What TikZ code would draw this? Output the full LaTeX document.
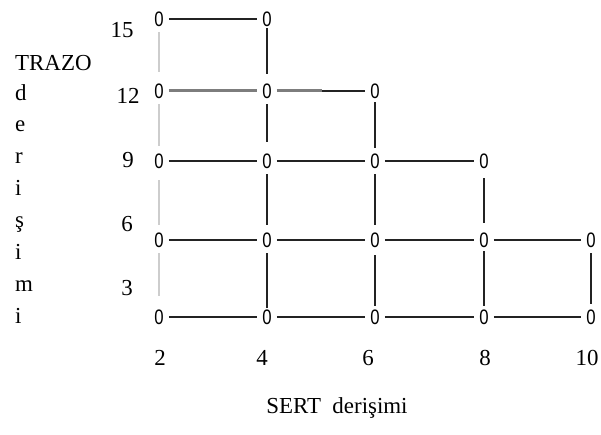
\documentclass[tikz,border=0pt]{standalone}
\usepackage{fontspec}
\setmainfont{Liberation Serif}
\newfontfamily\zerofont{Liberation Sans}[FakeStretch=0.8]
\usetikzlibrary{positioning}
\definecolor{gridgray}{RGB}{125,125,125}
\definecolor{paleline}{RGB}{205,205,205}
\definecolor{darkline}{RGB}{35,35,35}

\tikzset{
  pt/.style={inner xsep=5bp, inner ysep=1.5bp, font=\zerofont\fontsize{21}{21}\selectfont},
  lbl/.style={inner sep=0pt, font=\fontsize{23}{23}\selectfont},
  link/.style={line width=1.3bp, darkline},
  palelink/.style={line width=1.3bp, paleline},
  heavylink/.style={line width=3bp, gridgray},
}

\begin{document}
\begin{tikzpicture}[x=1bp, y=-1bp]
  \useasboundingbox[fill=white] (0,0) rectangle (601,435);

  % points of the grid
  \node[pt] (a15) at (159,19) {0};
  \node[pt] (b15) at (267,19) {0};
  \node[pt] (a12) at (159,91) {0};
  \node[pt] (b12) at (267,91) {0};
  \node[pt] (c12) at (375,91) {0};
  \node[pt] (a9) at (159,161) {0};
  \node[pt] (b9) at (267,161) {0};
  \node[pt] (c9) at (375,161) {0};
  \node[pt] (d9) at (484,161) {0};
  \node[pt] (a6) at (159,240) {0};
  \node[pt] (b6) at (267,240) {0};
  \node[pt] (c6) at (375,240) {0};
  \node[pt] (d6) at (484,240) {0};
  \node[pt] (e6) at (591,240) {0};
  \node[pt] (a3) at (159,317) {0};
  \node[pt] (b3) at (267,317) {0};
  \node[pt] (c3) at (375,317) {0};
  \node[pt] (d3) at (484,317) {0};
  \node[pt] (e3) at (591,317) {0};
  \coordinate (m12) at (322,91);

  % horizontal links
  \draw[link] (a15) -- (b15);
  \draw[heavylink] (a12) -- (b12);
  \draw[heavylink] (b12) -- (m12);
  \draw[link, line width=2.6bp] (m12) -- (c12);
  \draw[link] (a9) -- (b9);
  \draw[link] (b9) -- (c9);
  \draw[link] (c9) -- (d9);
  \draw[link] (a6) -- (b6);
  \draw[link] (b6) -- (c6);
  \draw[link] (c6) -- (d6);
  \draw[link] (d6) -- (e6);
  \draw[link] (a3) -- (b3);
  \draw[link] (b3) -- (c3);
  \draw[link] (c3) -- (d3);
  \draw[link] (d3) -- (e3);

  % vertical links
  \draw[palelink, shorten <=4bp, shorten >=10bp] (a15) -- (a12);
  \draw[palelink, shorten <=4bp, shorten >=6bp] (a12) -- (a9);
  \draw[palelink, shorten <=10bp, shorten >=6bp] (a9) -- (a6);
  \draw[palelink, shorten <=4bp, shorten >=12bp] (a6) -- (a3);
  \draw[link, shorten >=8bp] (b15) -- (b12);
  \draw[link, shorten <=4bp, shorten >=10bp] (b12) -- (b9);
  \draw[link, shorten <=4bp, shorten >=6bp] (b9) -- (b6);
  \draw[link, shorten <=4bp] (b6) -- (b3);
  \draw[link, shorten <=2bp, shorten >=4bp] (c12) -- (c9);
  \draw[link, shorten <=4bp, shorten >=6bp] (c9) -- (c6);
  \draw[link, shorten <=6bp, shorten >=2bp] (c6) -- (c3);
  \draw[link, shorten <=8bp, shorten >=8bp] (d9) -- (d6);
  \draw[link, shorten <=2bp, shorten >=2bp] (d6) -- (d3);
  \draw[link, shorten <=4bp, shorten >=4bp] (e6) -- (e3);

  % axis numbers
  \node[lbl] (y15) at (122,30) {15};
  \node[lbl] (y12) at (128,96) {12};
  \node[lbl] (y9) at (128,160) {9};
  \node[lbl] (y6) at (127,224) {6};
  \node[lbl] (y3) at (127,288) {3};
  \node[lbl] (x2) at (160,358) {2};
  \node[lbl] (x4) at (262,358) {4};
  \node[lbl] (x6) at (368,358) {6};
  \node[lbl] (x8) at (485,358) {8};
  \node[lbl] (x10) at (587,358) {10};

  % axis titles
  \node[lbl, anchor=west] (trazo) at (15,63) {TRAZO};
  \node[lbl, anchor=north west, align=left, font=\fontsize{23}{32}\selectfont]
    (derisim) at (15,84) {d\\e\\r\\i\\ş\\i\\m\\i};
  \node[lbl] (sert) at (337,408) {SERT\ \ derişimi};
\end{tikzpicture}
\end{document}
